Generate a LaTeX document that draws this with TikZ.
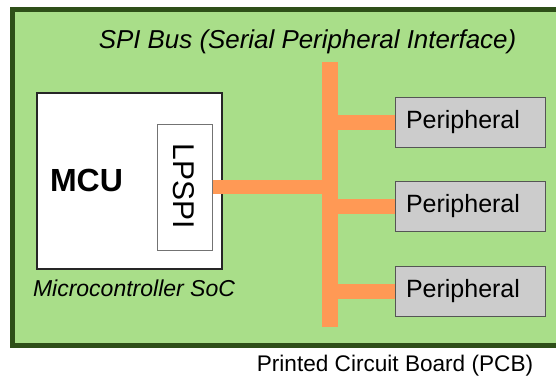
\documentclass[tikz,border=0pt]{standalone}
\usepackage{fontspec}
\setmainfont{Liberation Sans}
\definecolor{boardfill}{HTML}{A9DE89}
\definecolor{boardline}{HTML}{2E4F18}
\definecolor{busor}{HTML}{FF9955}
\definecolor{perfill}{HTML}{CCCCCC}
\definecolor{perline}{HTML}{555555}
\begin{document}
\begin{tikzpicture}[x=1pt,y=-1pt,
  boardedge/.style={draw=boardline,line width=5pt,line join=miter},
  mcubox/.style={draw=black!85,fill=white,line width=1.8pt,minimum width=185pt,minimum height=176pt,inner sep=0pt},
  spibox/.style={draw=black!55,fill=white,line width=1pt,minimum width=55pt,minimum height=126pt,inner sep=0pt},
  perbox/.style={draw=perline,fill=perfill,line width=1pt,minimum height=50pt,text width=128pt,inner xsep=11pt,inner ysep=0pt,align=left,font=\fontsize{25}{30}\selectfont},
  busline/.style={draw=busor,line cap=butt},
  lbl/.style={inner sep=0pt,anchor=base}]
\useasboundingbox (0,0) rectangle (556,376);
\fill[boardfill] (12.5,9.5) rectangle (556,345);
\draw[boardedge] (556,9.5) -- (12.5,9.5) -- (12.5,345) -- (556,345);
\node[lbl,font=\itshape\fontsize{25.9}{30}\selectfont] (title) at (307.5,48) {SPI Bus (Serial Peripheral Interface)};
\coordinate (bustop) at (330,62);
\coordinate (busbot) at (330,327);
\draw[busline,line width=16pt] (bustop) -- (busbot);
\node[mcubox] (mcu) at (129.5,181) {};
\node[spibox] (spi) at (184.5,187) {};
\node[lbl,font=\bfseries\fontsize{32}{36}\selectfont] (mcut) at (86.5,191) {MCU};
\node[inner sep=0pt,rotate=-90,font=\fontsize{30}{34}\selectfont] (spit) at (184,186) {LPSPI};
\node[lbl,font=\itshape\fontsize{23}{28}\selectfont] (soc) at (134,296) {Microcontroller SoC};
\node[perbox] (p1) at (470,122) {Peripheral};
\node[perbox] (p2) at (470,206.5) {Peripheral};
\node[perbox] (p3) at (470,291) {Peripheral};
\draw[busline,line width=14pt] (spi.east) -- ([xshift=8pt]spi.east -| bustop);
\foreach \p in {p1,p2,p3}{
  \draw[busline,line width=15pt] ([xshift=-8pt]\p.west -| bustop) -- (\p.west);
}
\node[lbl,font=\fontsize{22.6}{27}\selectfont] (pcb) at (395,371) {Printed Circuit Board (PCB)};
\end{tikzpicture}
\end{document}
